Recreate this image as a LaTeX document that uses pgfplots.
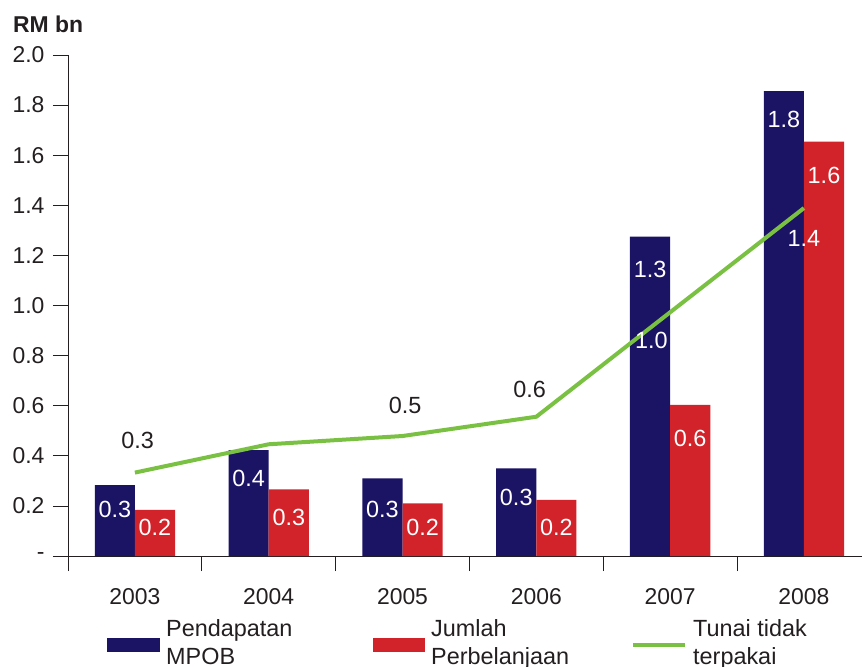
\documentclass[border=0pt]{standalone}
\usepackage{fontspec}
\setmainfont{Liberation Sans}
\usepackage{pgfplots}
\pgfplotsset{compat=1.18}
\definecolor{navyc}{RGB}{27,20,100}
\definecolor{redc}{RGB}{210,35,42}
\definecolor{greenc}{RGB}{122,193,67}
\definecolor{txt}{RGB}{35,31,32}

\begin{document}
\begin{tikzpicture}
\begin{axis}[
  at={(68bp,-556bp)}, anchor=south west,
  scale only axis, width=794bp, height=501bp,
  xmin=-0.5, xmax=5.434, ymin=0, ymax=2.0,
  axis x line*=bottom, axis y line*=left,
  axis line style={txt, line width=0.8bp},
  tick align=outside,
  ytick={0,0.2,0.4,0.6,0.8,1.0,1.2,1.4,1.6,1.8,2.0},
  yticklabels={-,0.2,0.4,0.6,0.8,1.0,1.2,1.4,1.6,1.8,2.0},
  yticklabel style={xshift=-5bp},
  xtick={-0.5,0.5,1.5,2.5,3.5,4.5},
  xticklabels={},
  extra x ticks={0,1,2,3,4,5},
  extra x tick labels={2003,2004,2005,2006,2007,2008},
  extra x tick style={major tick length=0pt, xticklabel style={yshift=-29bp}},
  major tick length=15bp,
  tick style={txt, line width=0.8bp},
  ticklabel style={font=\fontsize{23}{27}\selectfont, text=txt},
  legend style={at={(0.0491,-0.1587)}, anchor=west, draw=none, fill=none,
    inner sep=0pt, legend columns=3, /tikz/column sep=6bp,
    nodes={inner sep=0pt, text=txt},
    font=\fontsize{23.5}{28}\selectfont},
]
\addplot[ybar, bar width=0.3, bar shift=-0.15, fill=navyc, draw=none,
  legend image code/.code={\fill[navyc] (0bp,-23bp) rectangle (53bp,-9bp);}]
  coordinates {(0,0.283) (1,0.423) (2,0.310) (3,0.350) (4,1.275) (5,1.856)};
\addlegendentry{\parbox[t]{201bp}{Pendapatan\\MPOB}}
\addplot[ybar, bar width=0.3, bar shift=0.15, fill=redc, draw=none,
  legend image code/.code={\fill[redc] (0bp,-23bp) rectangle (52bp,-9bp);}]
  coordinates {(0,0.184) (1,0.266) (2,0.210) (3,0.224) (4,0.603) (5,1.654)};
\addlegendentry{\parbox[t]{194bp}{Jumlah\\Perbelanjaan}}
\addplot[greenc, line width=4bp, mark=none,
  legend image code/.code={\draw[greenc, line width=4bp] (0bp,-16bp) -- (52bp,-16bp);}]
  coordinates {(0,0.333) (1,0.446) (2,0.479) (3,0.556) (4,0.973) (5,1.389)};
\addlegendentry{\parbox[t]{160bp}{Tunai tidak\\terpakai}}

\tikzset{lbl/.style={inner sep=0pt, anchor=center, font=\fontsize{23.5}{27}\selectfont}}
% bar labels
\node[lbl, white] at (axis cs:-0.15,0.184) {0.3};
\node[lbl, white] at (axis cs:0.85,0.311) {0.4};
\node[lbl, white] at (axis cs:1.85,0.184) {0.3};
\node[lbl, white] at (axis cs:2.85,0.232) {0.3};
\node[lbl, white] at (axis cs:3.85,1.142) {1.3};
\node[lbl, white] at (axis cs:4.85,1.741) {1.8};
\node[lbl, white] at (axis cs:0.15,0.116) {0.2};
\node[lbl, white] at (axis cs:1.15,0.152) {0.3};
\node[lbl, white] at (axis cs:2.15,0.116) {0.2};
\node[lbl, white] at (axis cs:3.15,0.116) {0.2};
\node[lbl, white] at (axis cs:4.15,0.471) {0.6};
\node[lbl, white] at (axis cs:5.15,1.521) {1.6};
% line labels
\node[lbl, text=txt] at (axis cs:0.02,0.463) {0.3};
\node[lbl, text=txt] at (axis cs:2.02,0.603) {0.5};
\node[lbl, text=txt] at (axis cs:2.95,0.663) {0.6};
\node[lbl, white] at (axis cs:3.86,0.862) {1.0};
\node[lbl, white] at (axis cs:5.0,1.269) {1.4};
\end{axis}
\node[anchor=base west, inner sep=0pt, text=txt, font=\bfseries\fontsize{23}{27}\selectfont] at (13bp,-32bp) {RM bn};
\pgfresetboundingbox
\useasboundingbox (0,0) rectangle (862bp,-667bp);
\end{tikzpicture}
\end{document}
